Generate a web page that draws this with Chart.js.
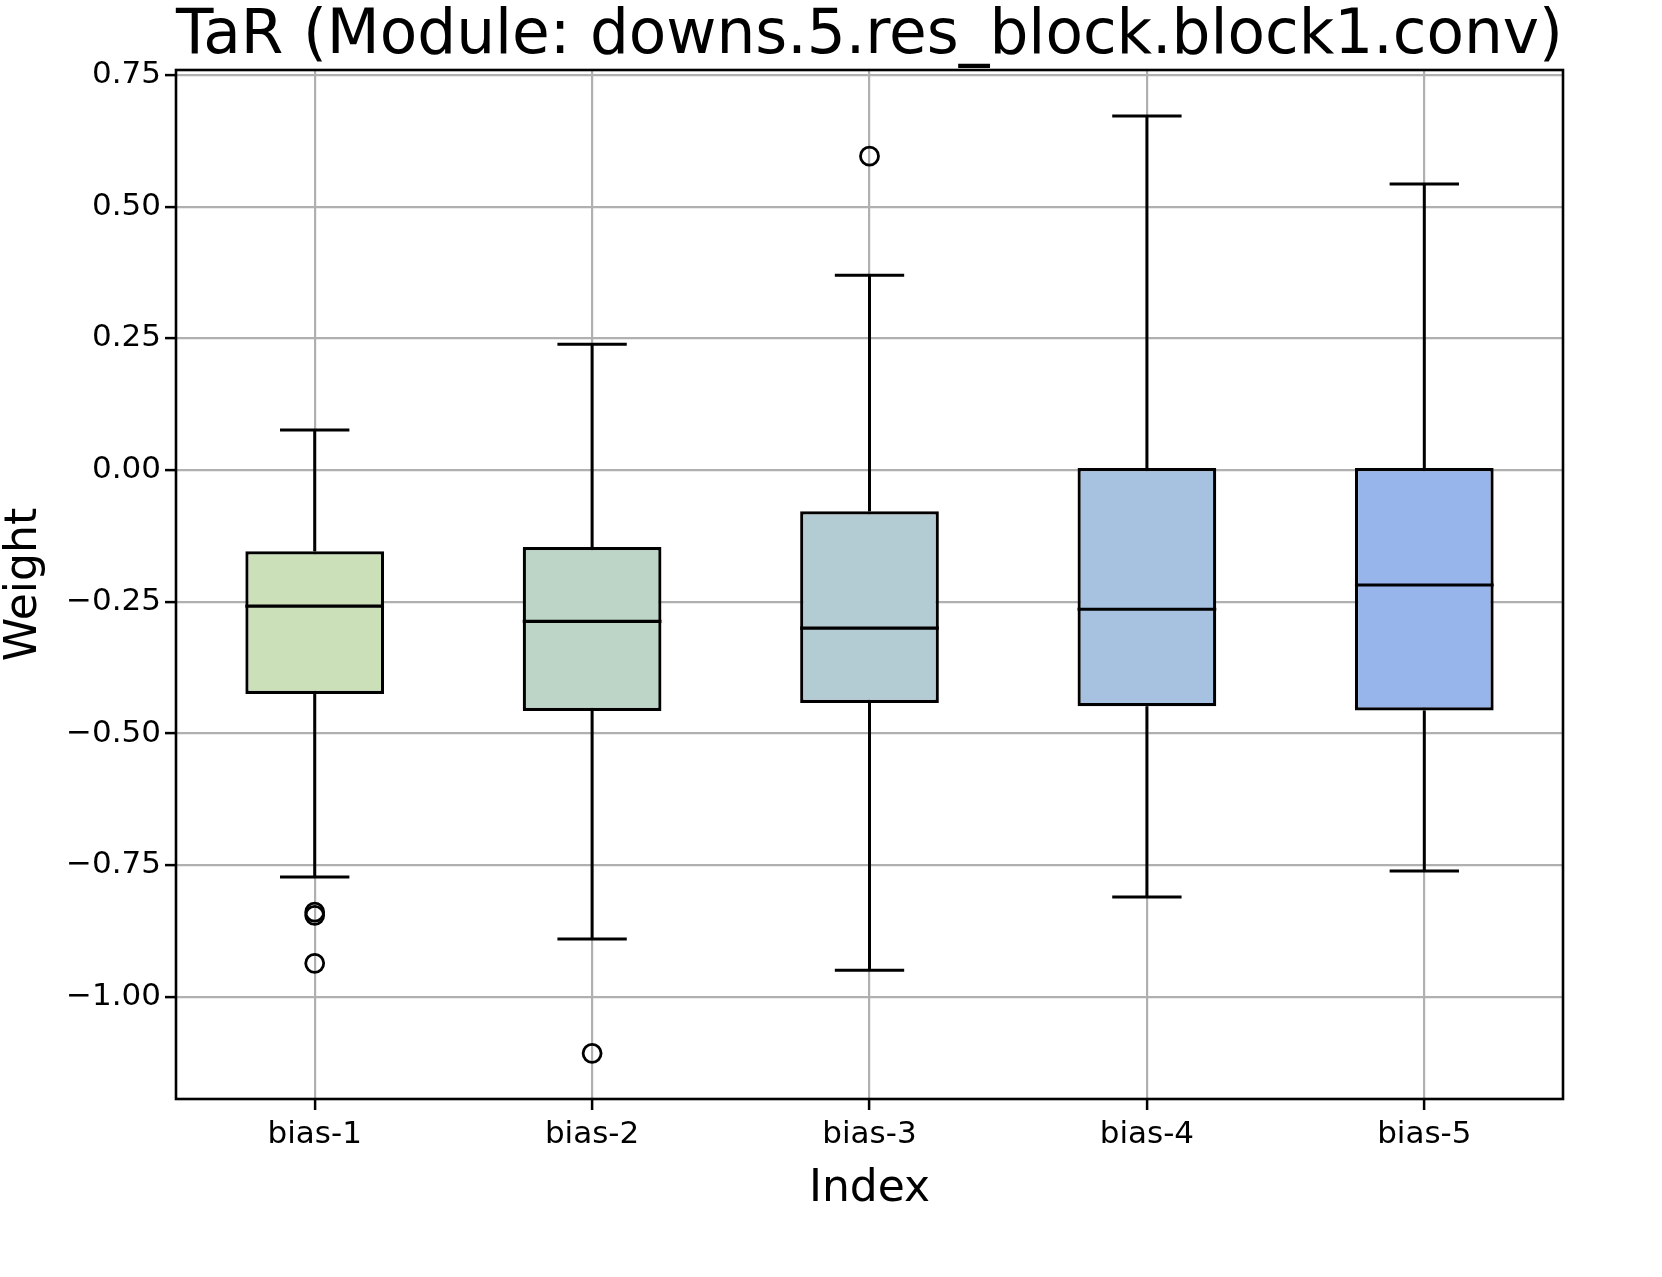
<!DOCTYPE html>
<html>
<head>
<meta charset="utf-8">
<script src="https://cdn.jsdelivr.net/npm/chart.js@4/dist/chart.umd.min.js"></script>
<style>
html,body{margin:0;padding:0;background:#fff;}
canvas{display:block;}
</style>
</head>
<body>
<canvas id="c" width="1662" height="1277"></canvas>
<script>
// ---- data ----
const categories = ['bias-1', 'bias-2', 'bias-3', 'bias-4', 'bias-5'];
const whiskerLow  = [-0.772, -0.890, -0.949, -0.810, -0.761];
const q1          = [-0.425, -0.457, -0.442, -0.448, -0.456];
const median      = [-0.258, -0.287, -0.300, -0.264, -0.218];
const q3          = [-0.154, -0.146, -0.078,  0.004,  0.004];
const whiskerHigh = [ 0.076,  0.239,  0.370,  0.672,  0.543];
const outlierCats = ['bias-1', 'bias-1', 'bias-1', 'bias-2', 'bias-3'];
const outlierVals = [-0.839, -0.845, -0.936, -1.107, 0.596];
const yTicks = [-1.00, -0.75, -0.50, -0.25, 0.00, 0.25, 0.50, 0.75];
const boxColors = ['#cbdfb8', '#bdd5c7', '#b3cbd3', '#a6c2e0', '#97b5ea'];
const yMin = -1.1936, yMax = 0.7595;

const FONT = "'DejaVu Sans', sans-serif";

const boxPlugin = {
  id: 'boxParts',
  beforeDatasetsDraw(chart) {
    const ctx = chart.ctx, y = chart.scales.y;
    const meta = chart.getDatasetMeta(0);
    ctx.save();
    ctx.strokeStyle = '#000';
    ctx.lineWidth = 3;
    meta.data.forEach((bar, i) => {
      const x = bar.x, half = bar.width / 4;
      const yl = y.getPixelForValue(whiskerLow[i]), yq1 = y.getPixelForValue(q1[i]);
      const yh = y.getPixelForValue(whiskerHigh[i]), yq3 = y.getPixelForValue(q3[i]);
      ctx.beginPath();
      ctx.moveTo(x, yq1); ctx.lineTo(x, yl);
      ctx.moveTo(x - half, yl); ctx.lineTo(x + half, yl);
      ctx.moveTo(x, yq3); ctx.lineTo(x, yh);
      ctx.moveTo(x - half, yh); ctx.lineTo(x + half, yh);
      ctx.stroke();
    });
    ctx.restore();
  },
  afterDatasetsDraw(chart) {
    const ctx = chart.ctx, y = chart.scales.y;
    const meta = chart.getDatasetMeta(0);
    ctx.save();
    ctx.strokeStyle = '#000';
    ctx.lineWidth = 3.2;
    meta.data.forEach((bar, i) => {
      const ym = y.getPixelForValue(median[i]);
      ctx.beginPath();
      ctx.moveTo(bar.x - bar.width / 2, ym); ctx.lineTo(bar.x + bar.width / 2, ym);
      ctx.stroke();
    });
    ctx.restore();
  },
  afterDraw(chart) {
    const {ctx, chartArea: a} = chart;
    ctx.save();
    ctx.strokeStyle = '#000';
    ctx.lineWidth = 2.6;
    ctx.strokeRect(a.left, a.top, a.right - a.left, a.bottom - a.top);
    ctx.restore();
  }
};

new Chart(document.getElementById('c'), {
  type: 'bar',
  data: {
    labels: categories,
    datasets: [
      {
        type: 'bar',
        data: categories.map((c, i) => [q1[i], q3[i]]),
        backgroundColor: boxColors,
        borderColor: '#000',
        borderWidth: 3.2,
        borderSkipped: false,
        barPercentage: 0.5,
        categoryPercentage: 1.0,
        order: 2
      },
      {
        type: 'scatter',
        data: outlierCats.map((c, i) => ({x: c, y: outlierVals[i]})),
        pointStyle: 'circle',
        pointRadius: 9,
        pointBorderWidth: 2.8,
        pointBorderColor: '#000',
        pointBackgroundColor: 'rgba(0,0,0,0)',
        showLine: false,
        order: 1
      }
    ]
  },
  options: {
    responsive: false,
    devicePixelRatio: 1,
    animation: false,
    layout: {padding: {left: 0, right: 99, top: 0, bottom: 0}},
    plugins: {
      legend: {display: false},
      tooltip: {enabled: false},
      title: {
        display: true,
        fullSize: false,
        text: 'TaR (Module: downs.5.res_block.block1.conv)',
        color: '#000',
        font: {family: FONT, size: 62, weight: 'normal', lineHeight: 1},
        padding: {top: 6, bottom: 2}
      }
    },
    scales: {
      x: {
        type: 'category',
        offset: true,
        grid: {offset: false, color: '#b0b0b0', lineWidth: 2.2, tickColor: '#000', tickLength: 11, tickWidth: 2.5},
        border: {display: false},
        ticks: {color: '#000', font: {family: FONT, size: 31}, padding: 6, maxRotation: 0},
        title: {display: true, text: 'Index', color: '#000', font: {family: FONT, size: 44, lineHeight: 1}, padding: {top: 0, bottom: 65}},
        afterFit(s) { s.height = 178; }
      },
      y: {
        type: 'linear',
        min: yMin,
        max: yMax,
        grid: {color: '#b0b0b0', lineWidth: 2.2, tickColor: '#000', tickLength: 11, tickWidth: 2.5},
        border: {display: false},
        afterBuildTicks(s) { s.ticks = yTicks.map(v => ({value: v})); },
        ticks: {
          color: '#000', font: {family: FONT, size: 31}, padding: 4,
          callback: v => (v < 0 ? '\u2212' : '') + Math.abs(v).toFixed(2)
        },
        title: {display: true, text: 'Weight', color: '#000', font: {family: FONT, size: 44, lineHeight: 1}, padding: {top: 3, bottom: 0}},
        afterFit(s) { s.width = 176; }
      }
    }
  },
  plugins: [boxPlugin]
});
</script>
</body>
</html>
